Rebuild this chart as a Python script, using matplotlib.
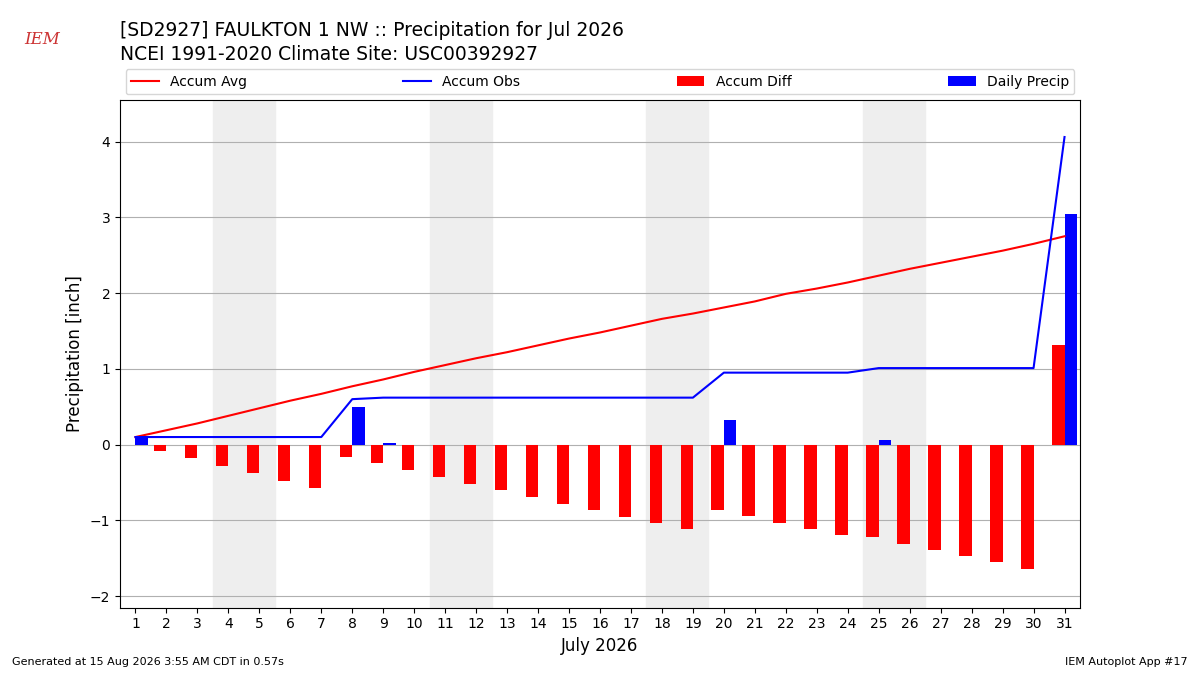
import numpy as np
import matplotlib
matplotlib.use("Agg")
import matplotlib.pyplot as plt

days = list(range(1, 32))
accum_avg = [0.10, 0.19, 0.28, 0.38, 0.48, 0.58, 0.67, 0.77, 0.86, 0.96, 1.05, 1.14, 1.22, 1.31, 1.40, 1.48, 1.57,
             1.66, 1.73, 1.81, 1.89, 1.99, 2.06, 2.14, 2.23, 2.32, 2.40, 2.48, 2.56, 2.65, 2.75]
accum_obs = [0.10, 0.10, 0.10, 0.10, 0.10, 0.10, 0.10, 0.60, 0.62, 0.62, 0.62, 0.62, 0.62, 0.62, 0.62, 0.62, 0.62,
             0.62, 0.62, 0.95, 0.95, 0.95, 0.95, 0.95, 1.01, 1.01, 1.01, 1.01, 1.01, 1.01, 4.06]
daily = [0.10, 0, 0, 0, 0, 0, 0, 0.50, 0.02, 0, 0, 0, 0, 0, 0, 0, 0,
         0, 0, 0.33, 0, 0, 0, 0, 0.06, 0, 0, 0, 0, 0, 3.05]
weekends = [(3.5, 5.5), (10.5, 12.5), (17.5, 19.5), (24.5, 26.5)]

x = np.array(days)
diff = np.array(accum_obs) - np.array(accum_avg)

fig = plt.figure(figsize=(12, 6.75), dpi=100)
ax = fig.add_axes([0.1, 0.1, 0.8, 0.752])

for a, b in weekends:
    ax.axvspan(a, b, color="#eeeeee", zorder=0)
ax.bar(x - 0.2, diff, width=0.4, color="red", label="Accum Diff", zorder=2)
ax.bar(x + 0.2, daily, width=0.4, color="blue", label="Daily Precip", zorder=2)
ax.plot(x, accum_avg, color="red", label="Accum Avg", zorder=3)
ax.plot(x, accum_obs, color="blue", label="Accum Obs", zorder=3)

ax.set_xlim(0.5, 31.5)
ax.set_ylim(-2.15, 4.55)
ax.set_xticks(days)
ax.grid(axis="y", zorder=1)
ax.set_axisbelow(True)
ax.set_ylabel("Precipitation [inch]", fontsize=12)
ax.set_xlabel("July 2026", fontsize=12)

ax.legend(ncol=4, loc="lower left", bbox_to_anchor=(0, 1.0, 1, 0.1), mode="expand",
          borderaxespad=0.4)

fig.text(0.1, 0.955, "[SD2927] FAULKTON 1 NW :: Precipitation for Jul 2026", fontsize=13.5, va="center")
fig.text(0.1, 0.92, "NCEI 1991-2020 Climate Site: USC00392927", fontsize=13.5, va="center")
fig.text(0.01, 0.015, "Generated at 15 Aug 2026 3:55 AM CDT in 0.57s", fontsize=8)
fig.text(0.99, 0.015, "IEM Autoplot App #17", fontsize=8, ha="right")
fig.text(0.035, 0.935, "IEM", fontsize=12, color="#cc3333", style="italic", family="serif", ha="center")

fig.savefig("out.png")
